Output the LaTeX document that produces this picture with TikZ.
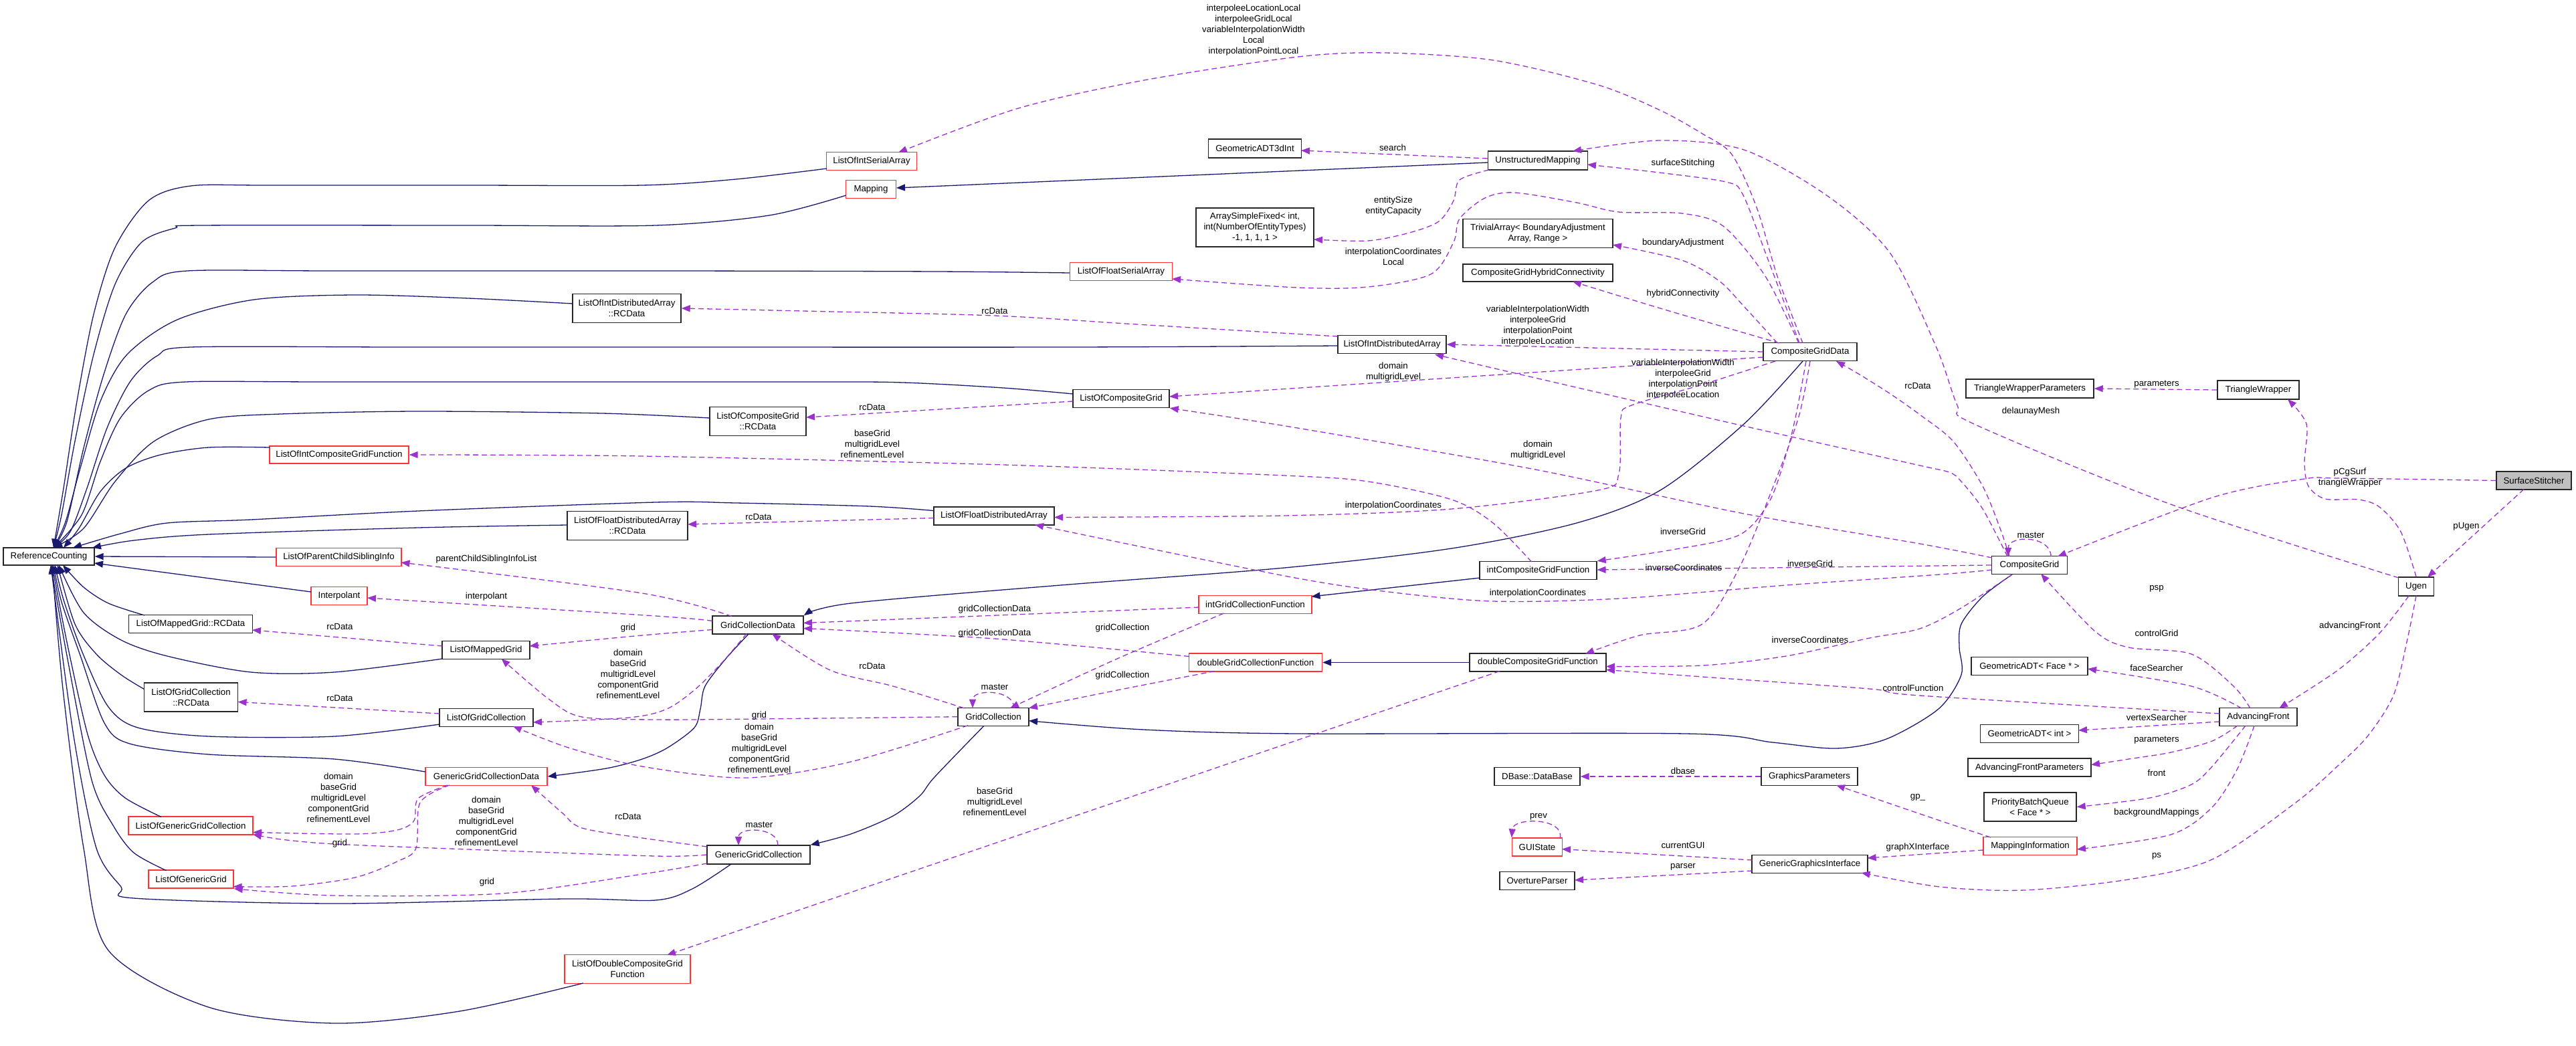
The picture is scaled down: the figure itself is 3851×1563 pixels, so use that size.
\documentclass[tikz,border=0pt]{standalone}
\usepackage{fontspec}
\setmainfont{Liberation Sans}
\usetikzlibrary{arrows.meta}
\definecolor{inhc}{HTML}{191970}
\definecolor{usec}{HTML}{9A32CD}
\definecolor{redb}{HTML}{FF3333}
\begin{document}
\begin{tikzpicture}[x=1pt,y=-1pt,font=\fontsize{13.3}{16}\selectfont,
 box/.style={draw=black!85,line width=1.4pt,fill=white,inner sep=0pt,align=center},
 rbox/.style={box,draw=redb},
 inh/.style={draw=inhc,line width=1.3pt,-{Triangle[length=13pt,width=10pt]}},
 use/.style={draw=usec,line width=1.3pt,dash pattern=on 8pt off 5pt,-{Triangle[length=13pt,width=10pt]}},
 lbl/.style={align=center,inner sep=0pt}]
\fill[white] (0,0) rectangle (3851,1563);
\useasboundingbox (0,0) rectangle (3851,1563);
% ---------------- nodes
\node[box,minimum width=136pt,minimum height=26pt] (RC) at (73,832) {ReferenceCounting};
\node[rbox,minimum width=135pt,minimum height=27pt] (LOISA) at (1303,241) {ListOfIntSerialArray};
\node[rbox,minimum width=75pt,minimum height=27pt] (MAP) at (1302,283) {Mapping};
\node[box,minimum width=139pt,minimum height=28pt] (GADT3) at (1876,222) {GeometricADT3dInt};
\node[box,minimum width=176pt,minimum height=58pt] (ASF) at (1876,340) {ArraySimpleFixed< int,\\int(NumberOfEntityTypes)\\-1, 1, 1, 1 >};
\node[rbox,minimum width=153pt,minimum height=27pt] (LOFSA) at (1676,406) {ListOfFloatSerialArray};
\node[box,minimum width=162pt,minimum height=43pt] (LOIDARC) at (937,461) {ListOfIntDistributedArray\\::RCData};
\node[box,minimum width=149pt,minimum height=28pt] (UM) at (2299,240) {UnstructuredMapping};
\node[box,minimum width=224pt,minimum height=43pt] (TA) at (2299,349) {TrivialArray< BoundaryAdjustment\\Array, Range >};
\node[box,minimum width=224pt,minimum height=26pt] (CGHC) at (2299,408) {CompositeGridHybridConnectivity};
\node[box,minimum width=162pt,minimum height=27pt] (LOIDA) at (2081,515) {ListOfIntDistributedArray};
\node[box,minimum width=140pt,minimum height=27pt] (CGD) at (2706,526) {CompositeGridData};
\node[rbox,minimum width=208pt,minimum height=26pt] (LOICGF) at (507,680) {ListOfIntCompositeGridFunction};
\node[box,minimum width=180pt,minimum height=43pt] (LOFDARC) at (938,786) {ListOfFloatDistributedArray\\::RCData};
\node[rbox,minimum width=187pt,minimum height=27pt] (LOPCSI) at (506.5,833) {ListOfParentChildSiblingInfo};
\node[rbox,minimum width=84pt,minimum height=27pt] (INTERP) at (507,891) {Interpolant};
\node[box,minimum width=185pt,minimum height=27pt] (LOMGRC) at (285,933) {ListOfMappedGrid::RCData};
\node[box,minimum width=131pt,minimum height=27pt] (LOMG) at (726.5,972) {ListOfMappedGrid};
\node[box,minimum width=140pt,minimum height=43pt] (LOGCRC) at (285.6,1042.5) {ListOfGridCollection\\::RCData};
\node[box,minimum width=144pt,minimum height=27pt] (LOCG) at (1676,596) {ListOfCompositeGrid};
\node[box,minimum width=144pt,minimum height=43pt] (LOCGRC) at (1133,630) {ListOfCompositeGrid\\::RCData};
\node[box,minimum width=180pt,minimum height=27pt] (LOFDA) at (1486,771.5) {ListOfFloatDistributedArray};
\node[box,minimum width=136pt,minimum height=27pt] (GCD) at (1133,934.5) {GridCollectionData};
\node[rbox,minimum width=169pt,minimum height=27pt] (IGCF) at (1876.5,904) {intGridCollectionFunction};
\node[rbox,minimum width=199pt,minimum height=27pt] (DGCF) at (1877,990.5) {doubleGridCollectionFunction};
\node[box,minimum width=106pt,minimum height=27pt] (GC) at (1485,1071.7) {GridCollection};
\node[box,minimum width=175pt,minimum height=27pt] (ICGF) at (2299.5,853) {intCompositeGridFunction};
\node[box,minimum width=204pt,minimum height=27pt] (DCGF) at (2299,990.5) {doubleCompositeGridFunction};
\node[box,minimum width=191pt,minimum height=28pt] (TWP) at (3034.5,581) {TriangleWrapperParameters};
\node[box,minimum width=122pt,minimum height=28pt] (TW) at (3376,583) {TriangleWrapper};
\node[box,fill={rgb,255:red,191;green,191;blue,191},minimum width=112pt,minimum height=27pt] (SS) at (3788,718.5) {SurfaceStitcher};
\node[box,minimum width=113pt,minimum height=27pt] (CG) at (3034,845) {CompositeGrid};
\node[box,minimum width=53pt,minimum height=28pt] (UGEN) at (3612,877) {Ugen};
\node[box,minimum width=174pt,minimum height=27pt] (GADTF) at (3034,996) {GeometricADT< Face * >};
\node[box,minimum width=140pt,minimum height=27pt] (LOGC) at (727,1073) {ListOfGridCollection};
\node[rbox,minimum width=182pt,minimum height=27pt] (GGCD) at (727,1161) {GenericGridCollectionData};
\node[rbox,minimum width=186pt,minimum height=27pt] (LOGGC) at (285,1234.5) {ListOfGenericGridCollection};
\node[rbox,minimum width=127pt,minimum height=27pt] (LOGG) at (285.6,1314.6) {ListOfGenericGrid};
\node[rbox,minimum width=188pt,minimum height=43pt] (LODCGF) at (938,1449) {ListOfDoubleCompositeGrid\\Function};
\node[box,minimum width=154pt,minimum height=28pt] (GGC) at (1134,1278) {GenericGridCollection};
\node[box,minimum width=128pt,minimum height=27pt] (DB) at (2298,1161) {DBase::DataBase};
\node[box,minimum width=144pt,minimum height=27pt] (GP) at (2705,1161) {GraphicsParameters};
\node[rbox,minimum width=75pt,minimum height=27pt] (GUI) at (2298,1266.6) {GUIState};
\node[box,minimum width=173pt,minimum height=27pt] (GGI) at (2705.6,1292) {GenericGraphicsInterface};
\node[box,minimum width=112pt,minimum height=27pt] (OP) at (2298,1317) {OvertureParser};
\node[box,minimum width=116pt,minimum height=27pt] (AF) at (3376,1072) {AdvancingFront};
\node[box,minimum width=147pt,minimum height=27pt] (GADTI) at (3034,1097) {GeometricADT< int >};
\node[box,minimum width=184pt,minimum height=27pt] (AFP) at (3034,1147.6) {AdvancingFrontParameters};
\node[box,minimum width=138pt,minimum height=43pt] (PBQ) at (3035,1206.6) {PriorityBatchQueue\\< Face * >};
\node[rbox,minimum width=140pt,minimum height=27pt] (MI) at (3035,1265) {MappingInformation};
% ---------------- inheritance edges
\draw[inh] plot[smooth] coordinates {([shift={(-67,11)}]LOISA.center) (1100,268) (960,277) (700,277) (400,277) (285,278) (222,300) (172,370) (140,470) (115,600) (95,730) ([shift={(7,-13)}]RC.center)};
\draw[inh] plot[smooth] coordinates {([shift={(-37,9)}]MAP.center) (1150,322) (980,337) (700,337) (300,337) (262,341) (212,362) (172,425) (140,530) (112,660) (92,770) ([shift={(7,-13)}]RC.center)};
\draw[inh] plot[smooth] coordinates {([shift={(-77,2)}]LOFSA.center) (1400,406) (1000,405) (500,405) (280,405) (228,422) (188,470) (155,560) (125,670) (100,780) ([shift={(7,-13)}]RC.center)};
\draw[inh] plot[smooth] coordinates {([shift={(-81,-7)}]LOIDARC.center) (700,446) (530,441) (380,448) (265,478) (190,530) (150,600) (120,700) (98,780) ([shift={(7,-13)}]RC.center)};
\draw[inh] plot[smooth] coordinates {([shift={(-81,2)}]LOIDA.center) (1600,519) (960,519) (600,519) (285,519) (235,532) (195,570) (160,640) (130,730) (105,795) ([shift={(7,-13)}]RC.center)};
\draw[inh] plot[smooth] coordinates {([shift={(-72,-7)}]LOCG.center) (1500,580) (1350,572) (1200,571) (500,571) (278,571) (222,584) (180,625) (150,690) (122,770) ([shift={(7,-13)}]RC.center)};
\draw[inh] plot[smooth] coordinates {([shift={(-72,-5)}]LOCGRC.center) (900,618) (625,615) (420,619) (312,627) (230,660) (172,720) (125,790) ([shift={(7,-13)}]RC.center)};
\draw[inh] plot[smooth] coordinates {([shift={(-104,-11)}]LOICGF.center) (312,669) (240,680) (188,700) (150,735) (118,790) ([shift={(22,-13)}]RC.center)};
\draw[inh] plot[smooth] coordinates {([shift={(-91,-8)}]LOFDA.center) (1300,757) (1100,752) (980,751) (625,764) (375,777) (250,782) (180,798) ([shift={(36,-13)}]RC.center)};
\draw[inh] plot[smooth] coordinates {([shift={(-90,-1)}]LOFDARC.center) (625,789) (312,799) (200,808) ([shift={(65,-13)}]RC.center)};
\draw[inh] (LOPCSI.west) -- (RC.east);
\draw[inh] ([shift={(-42,-6)}]INTERP.center) -- ([shift={(68,10)}]RC.center);
\draw[inh] plot[smooth] coordinates {([shift={(-69,-13)}]LOMGRC.center) (162,902) (125,878) ([shift={(21,13)}]RC.center)};
\draw[inh] plot[smooth] coordinates {([shift={(-65,13)}]LOMG.center) (500,1005) (375,1005) (250,981) (181,957) (125,916) ([shift={(15,13)}]RC.center)};
\draw[inh] plot[smooth] coordinates {([shift={(-70,-12)}]LOGCRC.center) (181,1009) (144,978) (112,933) ([shift={(13,13)}]RC.center)};
\draw[inh] plot[smooth] coordinates {([shift={(-70,10)}]LOGC.center) (500,1101) (312,1101) (206,1088) (162,1057) (125,980) (96,900) ([shift={(9,13)}]RC.center)};
\draw[inh] plot[smooth] coordinates {([shift={(-91,-7)}]GGCD.center) (500,1135) (312,1128) (194,1112) (156,1081) (120,980) (92,900) ([shift={(7,13)}]RC.center)};
\draw[inh] plot[smooth] coordinates {([shift={(-44,-13)}]LOGGC.center) (187,1193) (156,1159) (131,1098) (100,960) ([shift={(5,13)}]RC.center)};
\draw[inh] plot[smooth] coordinates {([shift={(-37,-13)}]LOGG.center) (200,1275) (169,1234) (137,1166) (100,980) ([shift={(3,13)}]RC.center)};
\draw[inh] plot[smooth] coordinates {([shift={(-41,14)}]GGC.center) (1035,1329) (980,1346) (844,1344) (500,1351) (200,1343) (181,1326) (144,1268) (110,1100) ([shift={(3,13)}]RC.center)};
\draw[inh] plot[smooth] coordinates {([shift={(-66,21)}]LODCGF.center) (687,1512) (500,1530) (312,1506) (162,1421) (125,1268) (94,1030) ([shift={(5,13)}]RC.center)};
\draw[inh] ([shift={(-75,3)}]UM.center) -- ([shift={(38,-2)}]MAP.center);
\draw[inh] plot[smooth] coordinates {([shift={(-11,14)}]CGD.center) (2607,634) (2482,733) (2357,782) (2170,820) (1920,849) (1585,875) (1272,902) (GCD.north east)};
\draw[inh] plot[smooth] coordinates {([shift={(-14,13.5)}]GCD.center) (1085,985) (1054,1026) (1047,1060) (1038,1088) (998,1118) (960,1135) (906,1149) (GGCD.east)};
\draw[inh] plot[smooth] coordinates {([shift={(-14,13.5)}]GC.center) (1397,1162) (1375,1190) (1335,1220) (1272,1247) (GGC.north east)};
\draw[inh] plot[smooth] coordinates {([shift={(-26,14)}]CG.center) (2964,892) (2932,933) (2929,968) (2932,1009) (2898,1060) (2820,1105) (2745,1119) (2650,1110) (2520,1097) (1940,1097) (1710,1091) ([shift={(53,6)}]GC.center)};
\draw[inh] ([shift={(-87,11)}]ICGF.center) -- ([shift={(84,-12)}]IGCF.center);
\draw[inh] (DCGF.west) -- (DGCF.east);
% ---------------- usage edges
\draw[use] plot[smooth] coordinates {([shift={(-11,-13)}]CGD.center) (2657,413) (2626,310) (2589,231) (2545,200) (2482,165) (2389,127) (2232,90) (2070,79) (1940,85) (1710,120) (1522,162) ([shift={(40,-13)}]LOISA.center)};
\draw[use] ([shift={(-75,-3)}]UM.center) -- ([shift={(69,3)}]GADT3.center);
\draw[use] plot[smooth] coordinates {([shift={(-16,-13)}]CGD.center) (2640,380) (2605,290) (2580,272) (2480,258) ([shift={(74,6)}]UM.center)};
\draw[use] plot[smooth] coordinates {([shift={(-26,-13)}]UGEN.center) (3245,754) (2951,634) (2926,606) (2895,520) (2826,379) (2732,293) (2607,224) (2482,210) ([shift={(52,-14)}]UM.center)};
\draw[use] plot[smooth] coordinates {([shift={(-73,14)}]UM.center) (2182,269) (2173,300) (2151,331) (2107,348) (2045,360) ([shift={(88,18)}]ASF.center)};
\draw[use] plot[smooth] coordinates {([shift={(-17,-13)}]CGD.center) (2639,413) (2576,338) (2514,319) (2420,317) (2357,303) (2264,288) (2220,296) (2182,327) (2173,362) (2139,410) (2045,429) (1940,430) ([shift={(76,11)}]LOFSA.center)};
\draw[use] plot[smooth] coordinates {([shift={(-49,-13)}]CGD.center) (2607,458) (2570,420) (2514,389) ([shift={(112,17)}]TA.center)};
\draw[use] plot[smooth] coordinates {([shift={(-46,-13)}]CGD.center) (2482,461) ([shift={(52,13)}]CGHC.center)};
\draw[use] (CGD.west) -- (LOIDA.east);
\draw[use] plot[smooth] coordinates {([shift={(-81,-12)}]LOIDA.center) (1700,485) (1487,472) (1200,465) (LOIDARC.east)};
\draw[use] ([shift={(-70,8)}]CGD.center) -- ([shift={(72,-3)}]LOCG.center);
\draw[use] plot[smooth] coordinates {([shift={(-56,-11)}]CG.center) (2870,813) (2607,768) (2295,702) (1940,640) (LOCG.south east)};
\draw[use] ([shift={(-72,4)}]LOCG.center) -- ([shift={(72,-6)}]LOCGRC.center);
\draw[use] plot[smooth] coordinates {([shift={(-10,-13)}]ICGF.center) (2232,782) (2170,747) (2045,720) (1920,711) (1500,695) (960,682) (LOICGF.east)};
\draw[use] plot[smooth] coordinates {([shift={(-52,14)}]CGD.center) (2545,575) (2439,606) (2423,625) (2420,709) (2389,733) (2170,761) (1920,771) ([shift={(90,2)}]LOFDA.center)};
\draw[use] plot[smooth] coordinates {([shift={(-56,7)}]CG.center) (2900,859) (2670,875) (2420,895) (2232,899) (2076,885) (1920,861) ([shift={(61,13)}]LOFDA.center)};
\draw[use] ([shift={(-90,3)}]LOFDA.center) -- ([shift={(90,-2)}]LOFDARC.center);
\draw[use] plot[smooth] coordinates {([shift={(-30,-13)}]CG.center) (2990,790) (2964,727) (2920,660) (2870,620) (2826,589) (2780,560) ([shift={(39,14)}]CGD.center)};
\draw[use] plot[smooth] coordinates {([shift={(-33,-13)}]CG.center) (2964,761) (2932,720) (2914,706) (2870,696) (2607,637) (2295,565) ([shift={(64,15)}]LOIDA.center)};
\draw[use] ([shift={(32,-13)}]CG.center) .. controls (3066,800) and (3002,800) .. ([shift={(-32,-13)}]CG.center);
\draw[use] plot[smooth] coordinates {([shift={(-6,14)}]CGD.center) (2685,620) (2670,680) (2645,750) (2600,800) (2500,822) (ICGF.north east)};
\draw[use] plot[smooth] coordinates {([shift={(0,14)}]CGD.center) (2689,623) (2651,727) (2601,847) (2545,933) (2451,950) ([shift={(71,-13)}]DCGF.center)};
\draw[use] (CG.west) -- ([shift={(88,-1)}]ICGF.center);
\draw[use] plot[smooth] coordinates {([shift={(-26,14)}]CG.center) (2932,909) (2870,940) (2795,954) (2670,981) (2545,995) ([shift={(102,6)}]DCGF.center)};
\draw[use] plot[smooth] coordinates {([shift={(-58,-5)}]AF.center) (2870,1040) (2795,1030) (2545,1012) ([shift={(102,11)}]DCGF.center)};
\draw[use] ([shift={(-84,4)}]IGCF.center) -- ([shift={(68,-3)}]GCD.center);
\draw[use] plot[smooth] coordinates {([shift={(-99,-9)}]DGCF.center) (1487,955) ([shift={(68,5)}]GCD.center)};
\draw[use] plot[smooth] coordinates {([shift={(-47,13)}]IGCF.center) (1670,985) ([shift={(25,-13)}]GC.center)};
\draw[use] plot[smooth] coordinates {([shift={(-61,13)}]DGCF.center) (1680,1030) ([shift={(53,-13)}]GC.center)};
\draw[use] plot[smooth] coordinates {([shift={(-44,-13)}]GC.center) (1335,1026) (1241,1002) ([shift={(21,13)}]GCD.center)};
\draw[use] ([shift={(31,-13)}]GC.center) .. controls (1516,1030) and (1454,1030) .. ([shift={(-31,-13)}]GC.center);
\draw[use] plot[smooth] coordinates {([shift={(-68,7)}]GCD.center) (960,950) ([shift={(65,-6)}]LOMG.center)};
\draw[use] plot[smooth] coordinates {([shift={(-68,-6)}]GCD.center) (980,921) ([shift={(42,3)}]INTERP.center)};
\draw[use] plot[smooth] coordinates {([shift={(-39,-13)}]GCD.center) (960,887) ([shift={(93,8)}]LOPCSI.center)};
\draw[use] ([shift={(-65,-6)}]LOMG.center) -- ([shift={(92,9)}]LOMGRC.center);
\draw[use] plot[smooth] coordinates {(GC.west) (1135,1075) (980,1076) (870,1072) (820,1045) ([shift={(23,13)}]LOMG.center)};
\draw[use] plot[smooth] coordinates {([shift={(-17,13)}]GCD.center) (1080,990) (1040,1030) (997,1060) (940,1073) ([shift={(70,7)}]LOGC.center)};
\draw[use] plot[smooth] coordinates {([shift={(-38,13)}]GC.center) (1272,1139) (1116,1163) (960,1146) (850,1118) ([shift={(40,13)}]LOGC.center)};
\draw[use] ([shift={(-70,-6)}]LOGC.center) -- ([shift={(70,7)}]LOGCRC.center);
\draw[use] plot[smooth] coordinates {([shift={(-77,-12)}]GGC.center) (960,1253) (870,1238) (840,1215) ([shift={(67,13)}]GGCD.center)};
\draw[use] plot[smooth] coordinates {([shift={(-58,13)}]GGCD.center) (625,1194) (619,1227) (594,1241) (531,1247) ([shift={(93,10)}]LOGGC.center)};
\draw[use] plot[smooth] coordinates {([shift={(-55,13)}]GGCD.center) (628,1200) (622,1268) (594,1288) (531,1312) (437,1325) ([shift={(63,11)}]LOGG.center)};
\draw[use] plot[smooth] coordinates {(GGC.west) (980,1280) (700,1270) (500,1262) (420,1255) ([shift={(93,13)}]LOGGC.center)};
\draw[use] plot[smooth] coordinates {([shift={(-77,13)}]GGC.center) (960,1307) (750,1336) (500,1339) (LOGG.south east)};
\draw[use] ([shift={(29,-14)}]GGC.center) .. controls (1163,1236) and (1104,1236) .. ([shift={(-30,-14)}]GGC.center);
\draw[use] ([shift={(-57,13)}]DCGF.center) -- ([shift={(59,-21)}]LODCGF.center);
\draw[use] plot[smooth] coordinates {([shift={(-12,-13)}]AF.center) (3339,1026) (3276,978) (3182,968) (3132,944) ([shift={(17,13)}]CG.center)};
\draw[use] plot[smooth] coordinates {([shift={(-25,-13)}]AF.center) (3276,1026) ([shift={(87,4)}]GADTF.center)};
\draw[use] plot[smooth] coordinates {([shift={(-11,14)}]UGEN.center) (3557,947) (3495,1002) ([shift={(31,-13)}]AF.center)};
\draw[use] plot[smooth] coordinates {([shift={(0,14)}]UGEN.center) (3598,960) (3578,1040) (3540,1100) (3495,1145) (3432,1200) (3307,1285) (3182,1315) (3026,1331) (2900,1326) ([shift={(77,13)}]GGI.center)};
\draw[use] ([shift={(-58,7)}]AF.center) -- ([shift={(73,-5)}]GADTI.center);
\draw[use] plot[smooth] coordinates {([shift={(-31,13)}]AF.center) (3307,1108) (3245,1125) (3182,1135) ([shift={(92,-4)}]AFP.center)};
\draw[use] plot[smooth] coordinates {([shift={(-19,13)}]AF.center) (3307,1146) (3276,1173) (3214,1193) (PBQ.east)};
\draw[use] plot[smooth] coordinates {([shift={(-6,13)}]AF.center) (3345,1149) (3307,1207) (3245,1248) ([shift={(70,5)}]MI.center)};
\draw[use] plot[smooth] coordinates {([shift={(-59,-13)}]MI.center) (2900,1227) ([shift={(40,13)}]GP.center)};
\draw[use] ([shift={(-70,6)}]MI.center) -- ([shift={(86,-9)}]GGI.center);
\draw[use] (GP.west) -- (DB.east);
\draw[use] ([shift={(-86,-6)}]GGI.center) -- ([shift={(37,3)}]GUI.center);
\draw[use] ([shift={(-86,10)}]GGI.center) -- ([shift={(56,-1)}]OP.center);
\draw[use] ([shift={(34,-13)}]GUI.center) .. controls (2340,1222) and (2262,1222) .. (GUI.north west);
\draw[use] plot[smooth] coordinates {(SS.west) (3495,715) (3445,716) (3307,744) ([shift={(42,-13)}]CG.center)};
\draw[use] plot[smooth] coordinates {(UGEN.north) (3589,795) (3557,758) (3526,747) (3476,746) (3451,727) (3445,692) (3448,634) ([shift={(44,14)}]TW.center)};
\draw[use] ([shift={(-15,13)}]SS.center) -- ([shift={(17,-14)}]UGEN.center);
\draw[use] (TW.west) -- (TWP.east);
% ---------------- labels
\node[lbl] (l1) at (1874,45) {interpoleeLocationLocal\\interpoleeGridLocal\\variableInterpolationWidth\\Local\\interpolationPointLocal};
\node[lbl] (l2) at (2082,221) {search};
\node[lbl] (l3) at (2516,244) {surfaceStitching};
\node[lbl] (l4) at (2083,308) {entitySize\\entityCapacity};
\node[lbl] (l5) at (2083,384) {interpolationCoordinates\\Local};
\node[lbl] (l6) at (2516,363) {boundaryAdjustment};
\node[lbl] (l7) at (2516,439) {hybridConnectivity};
\node[lbl] (l8) at (2299,487) {variableInterpolationWidth\\interpoleeGrid\\interpolationPoint\\interpoleeLocation};
\node[lbl] (l9) at (1487,465) {rcData};
\node[lbl] (l10) at (3036,615) {delaunayMesh};
\node[lbl] (l11) at (3224,575) {parameters};
\node[lbl] (l12) at (3513,714) {pCgSurf\\triangleWrapper};
\node[lbl] (l13) at (3687,787) {pUgen};
\node[lbl] (l14) at (3036,800) {master};
\node[lbl] (l15) at (2867,577) {rcData};
\node[lbl] (l16) at (2083,556) {domain\\multigridLevel};
\node[lbl] (l17) at (2516,567) {variableInterpolationWidth\\interpoleeGrid\\interpolationPoint\\interpoleeLocation};
\node[lbl] (l18) at (2299,673) {domain\\multigridLevel};
\node[lbl] (l19) at (2083,756) {interpolationCoordinates};
\node[lbl] (l20) at (2516,795) {inverseGrid};
\node[lbl] (l21) at (2517,849) {inverseCoordinates};
\node[lbl] (l22) at (2706,843) {inverseGrid};
\node[lbl] (l23) at (2299,887) {interpolationCoordinates};
\node[lbl] (l24) at (2706,957) {inverseCoordinates};
\node[lbl] (l25) at (2860,1029) {controlFunction};
\node[lbl] (l26) at (3224,880) {psp};
\node[lbl] (l27) at (3513,936) {advancingFront};
\node[lbl] (l28) at (3224,947) {controlGrid};
\node[lbl] (l29) at (3224,999) {faceSearcher};
\node[lbl] (l30) at (3224,1073) {vertexSearcher};
\node[lbl] (l31) at (3224,1107) {parameters};
\node[lbl] (l32) at (3224,1156) {front};
\node[lbl] (l33) at (3224,1215) {backgroundMappings};
\node[lbl] (l34) at (3224,1280) {ps};
\node[lbl] (l35) at (2867,1192) {gp\_};
\node[lbl] (l36) at (2867,1267) {graphXInterface};
\node[lbl] (l37) at (2516,1153) {dbase};
\node[lbl] (l38) at (2300,1221) {prev};
\node[lbl] (l39) at (2516,1264) {currentGUI};
\node[lbl] (l40) at (2516,1296) {parser};
\node[lbl] (l41) at (1304,609) {rcData};
\node[lbl] (l42) at (1304,664) {baseGrid\\multigridLevel\\refinementLevel};
\node[lbl] (l43) at (1134,773) {rcData};
\node[lbl] (l44) at (1487,911) {gridCollectionData};
\node[lbl] (l45) at (1487,947) {gridCollectionData};
\node[lbl] (l46) at (1678,939) {gridCollection};
\node[lbl] (l47) at (1304,996) {rcData};
\node[lbl] (l48) at (1678,1010) {gridCollection};
\node[lbl] (l49) at (1487,1027) {master};
\node[lbl] (l50) at (727,836) {parentChildSiblingInfoList};
\node[lbl] (l51) at (727,892) {interpolant};
\node[lbl] (l52) at (508,937) {rcData};
\node[lbl] (l53) at (939,939) {grid};
\node[lbl] (l54) at (939,1008) {domain\\baseGrid\\multigridLevel\\componentGrid\\refinementLevel};
\node[lbl] (l55) at (508,1044) {rcData};
\node[lbl] (l56) at (1135,1070) {grid};
\node[lbl] (l57) at (1135,1119) {domain\\baseGrid\\multigridLevel\\componentGrid\\refinementLevel};
\node[lbl] (l58) at (1487,1199) {baseGrid\\multigridLevel\\refinementLevel};
\node[lbl] (l59) at (1135,1233) {master};
\node[lbl] (l60) at (506,1193) {domain\\baseGrid\\multigridLevel\\componentGrid\\refinementLevel};
\node[lbl] (l61) at (508,1261) {grid};
\node[lbl] (l62) at (727,1228) {domain\\baseGrid\\multigridLevel\\componentGrid\\refinementLevel};
\node[lbl] (l63) at (939,1221) {rcData};
\node[lbl] (l64) at (728,1319) {grid};
\end{tikzpicture}
\end{document}
